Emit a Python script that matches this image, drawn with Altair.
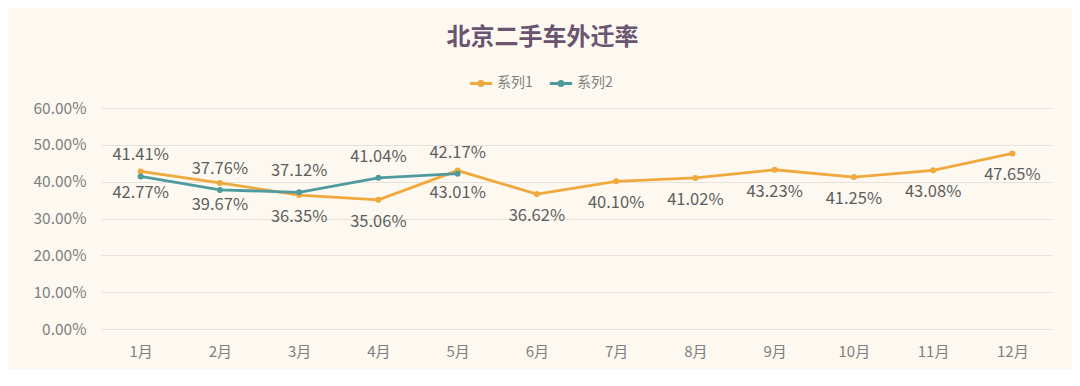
import altair as alt
import pandas as pd

months = ["1月", "2月", "3月", "4月", "5月", "6月", "7月", "8月", "9月", "10月", "11月", "12月"]
series_names = ["系列1", "系列2"]
series1 = [0.4277, 0.3967, 0.3635, 0.3506, 0.4301, 0.3662, 0.4010, 0.4102, 0.4323, 0.4125, 0.4308, 0.4765]
series2 = [0.4141, 0.3776, 0.3712, 0.4104, 0.4217]
colors = ["#F0A93C", "#4E9A9E"]

rows = []
for m, v in zip(months, series1):
    rows.append({"month": m, "series": series_names[0], "value": v})
for m, v in zip(months, series2):
    rows.append({"month": m, "series": series_names[1], "value": v})
df = pd.DataFrame(rows)

FONT = "Noto Sans CJK SC"

x = alt.X("month:N", sort=months, title=None,
          scale=alt.Scale(paddingInner=0, paddingOuter=0.5),
          axis=alt.Axis(labelAngle=0, ticks=False, domain=False, grid=False,
                        labelFontSize=15, labelColor="#7f7f7f", labelPadding=15, labelFont=FONT))
y = alt.Y("value:Q", title=None,
          scale=alt.Scale(domain=[0, 0.6], nice=False),
          axis=alt.Axis(format=".2%", values=[0, 0.1, 0.2, 0.3, 0.4, 0.5, 0.6], ticks=False, domain=False,
                        gridColor="#E6E2DB", gridWidth=1, labelFontSize=15.5, labelColor="#7f7f7f",
                        labelPadding=15, labelFont=FONT))
legend_symbol = "M-1,0L1,0M-0.18,0A0.18,0.18,0,1,1,0.18,0A0.18,0.18,0,1,1,-0.18,0"
color = alt.Color("series:N", scale=alt.Scale(domain=series_names, range=colors),
                  legend=alt.Legend(title=None, orient="none", direction="horizontal",
                                    legendX=367, legendY=-38, symbolType=legend_symbol,
                                    symbolStrokeWidth=3, symbolSize=500, labelFontSize=14,
                                    labelColor="#7f7f7f", labelFont=FONT, columnPadding=10,
                                    symbolOffset=0, labelOffset=3))

base = alt.Chart(df)

lines = base.mark_line(strokeWidth=2.8, point=alt.OverlayMarkDef(filled=True, size=36)).encode(
    x=x, y=y, color=color
)

text1 = base.transform_filter(alt.datum.series == series_names[0]).mark_text(
    dy=22, fontSize=16.5, color="#5e5e5e", font=FONT
).encode(x=x, y=y, text=alt.Text("value:Q", format=".2%"))

text2 = base.transform_filter(alt.datum.series == series_names[1]).mark_text(
    dy=-21, fontSize=16.5, color="#5e5e5e", font=FONT
).encode(x=x, y=y, text=alt.Text("value:Q", format=".2%"))

chart = alt.layer(lines, text1, text2).properties(
    width=951, height=221,
    title=alt.TitleParams("北京二手车外迁率", fontSize=24, font=FONT, fontWeight="bold",
                          color="#6A5470", anchor="middle", dx=-34, offset=20),
    autosize=alt.AutoSizeParams(type="none"),
    padding={"left": 93, "top": 100, "right": 20, "bottom": 40},
    background="#FDF9F1",
).configure_view(stroke=None)

chart.save("out.html", embed_options={"renderer": "svg", "actions": False})
